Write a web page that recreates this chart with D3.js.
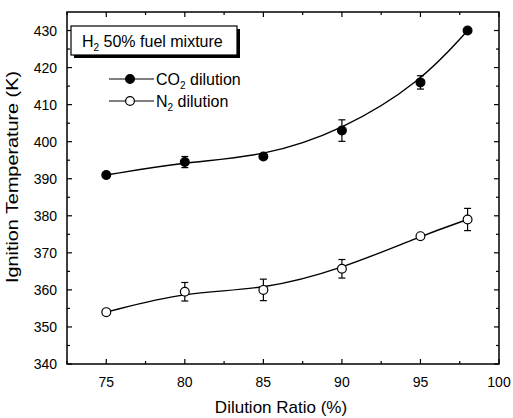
<!DOCTYPE html>
<html><head><meta charset="utf-8">
<script src="https://cdn.jsdelivr.net/npm/d3@7"></script>
<style>body{margin:0;background:#fff}svg{display:block}text{font-family:"Liberation Sans",Arial,sans-serif;fill:#000}</style>
</head><body><svg id="c" width="513" height="418"></svg>
<script>
const dilution = [75, 80, 85, 90, 95, 98];
const co2Temp = [391, 394.5, 396, 403, 416, 430];
const co2Err = [0.7, 1.5, 0.6, 2.9, 1.8, 0.5];
const n2Temp = [354, 359.5, 360, 365.7, 374.5, 379];
const n2Err = [0.7, 2.5, 2.9, 2.5, 0.5, 3];
const xTicks = [75, 80, 85, 90, 95, 100];
const yTicks = [340, 350, 360, 370, 380, 390, 400, 410, 420, 430];
const xLabel = "Dilution Ratio (%)";
const yLabel = "Ignition Temperature (K)";

const svg = d3.select("#c");
const L = 67, R = 499, T = 12, B = 364;
const x = d3.scaleLinear().domain([72.5, 100]).range([L, R]);
const y = d3.scaleLinear().domain([340, 435]).range([B, T]);

const g = svg.append("g");
g.append("rect").attr("x", L).attr("y", T).attr("width", R - L).attr("height", B - T)
  .attr("fill", "none").attr("stroke", "#000").attr("stroke-width", 1.5);

const xMinor = d3.range(72.5, 100.01, 2.5).filter(v => !xTicks.includes(v));
const yMinor = d3.range(345, 435, 10);

function ticksX(vals, len) {
  vals.forEach(v => {
    g.append("line").attr("x1", x(v)).attr("x2", x(v)).attr("y1", B).attr("y2", B - len).attr("stroke", "#000").attr("stroke-width", 1.2);
    g.append("line").attr("x1", x(v)).attr("x2", x(v)).attr("y1", T).attr("y2", T + len).attr("stroke", "#000").attr("stroke-width", 1.2);
  });
}
function ticksY(vals, len) {
  vals.forEach(v => {
    g.append("line").attr("y1", y(v)).attr("y2", y(v)).attr("x1", L).attr("x2", L + len).attr("stroke", "#000").attr("stroke-width", 1.2);
    g.append("line").attr("y1", y(v)).attr("y2", y(v)).attr("x1", R).attr("x2", R - len).attr("stroke", "#000").attr("stroke-width", 1.2);
  });
}
ticksX(xTicks, 5); ticksX(xMinor, 3);
ticksY(yTicks, 5); ticksY(yMinor, 3);

xTicks.forEach(v => g.append("text").attr("x", x(v)).attr("y", B + 23).attr("text-anchor", "middle")
  .attr("font-size", 14).text(v));
yTicks.forEach(v => g.append("text").attr("x", 57).attr("y", y(v) + 5).attr("text-anchor", "end")
  .attr("font-size", 14).text(v));

g.append("text").attr("x", 281).attr("y", 413).attr("text-anchor", "middle").attr("font-size", 17).text(xLabel);
g.append("text").attr("transform", `translate(18,${177}) rotate(-90)`).attr("text-anchor", "middle")
  .attr("font-size", 17).attr("textLength", 212).attr("lengthAdjust", "spacingAndGlyphs").text(yLabel);

const line = d3.line().x((d, i) => x(dilution[i])).y(d => y(d)).curve(d3.curveBasis);

function series(vals, errs, fill) {
  g.append("path").attr("d", line(vals)).attr("fill", "none").attr("stroke", "#000").attr("stroke-width", 1.4);
  vals.forEach((v, i) => {
    const cx = x(dilution[i]);
    const e = errs[i];
    g.append("line").attr("x1", cx).attr("x2", cx).attr("y1", y(v - e)).attr("y2", y(v + e)).attr("stroke", "#000").attr("stroke-width", 1.2);
    [v - e, v + e].forEach(w => g.append("line").attr("x1", cx - 3.5).attr("x2", cx + 3.5).attr("y1", y(w)).attr("y2", y(w)).attr("stroke", "#000").attr("stroke-width", 1.2));
    g.append("circle").attr("cx", cx).attr("cy", y(v)).attr("r", 4.4).attr("fill", fill).attr("stroke", "#000").attr("stroke-width", 1.2);
  });
}
series(co2Temp, co2Err, "#000");
series(n2Temp, n2Err, "#fff");

g.append("rect").attr("x", 74).attr("y", 29).attr("width", 166).attr("height", 29).attr("fill", "#000");
g.append("rect").attr("x", 71).attr("y", 26).attr("width", 166).attr("height", 29).attr("fill", "#fff").attr("stroke", "#000").attr("stroke-width", 1.2);
const t = g.append("text").attr("x", 82).attr("y", 47).attr("font-size", 16);
t.append("tspan").text("H");
t.append("tspan").attr("font-size", 10).attr("dy", 4).text("2");
t.append("tspan").attr("dy", -4).text(" 50% fuel mixture");

const leg = [{y: 79, fill: "#000", main: "CO", sub: "2", rest: " dilution"}, {y: 101, fill: "#fff", main: "N", sub: "2", rest: " dilution"}];
leg.forEach(d => {
  g.append("line").attr("x1", 109).attr("x2", 154).attr("y1", d.y).attr("y2", d.y).attr("stroke", "#000").attr("stroke-width", 1.2);
  g.append("circle").attr("cx", 130).attr("cy", d.y).attr("r", 4.4).attr("fill", d.fill).attr("stroke", "#000").attr("stroke-width", 1.2);
  const tt = g.append("text").attr("x", 156).attr("y", d.y + 6).attr("font-size", 16);
  tt.append("tspan").text(d.main);
  tt.append("tspan").attr("font-size", 10).attr("dy", 4).text(d.sub);
  tt.append("tspan").attr("dy", -4).text(d.rest);
});
</script></body></html>
